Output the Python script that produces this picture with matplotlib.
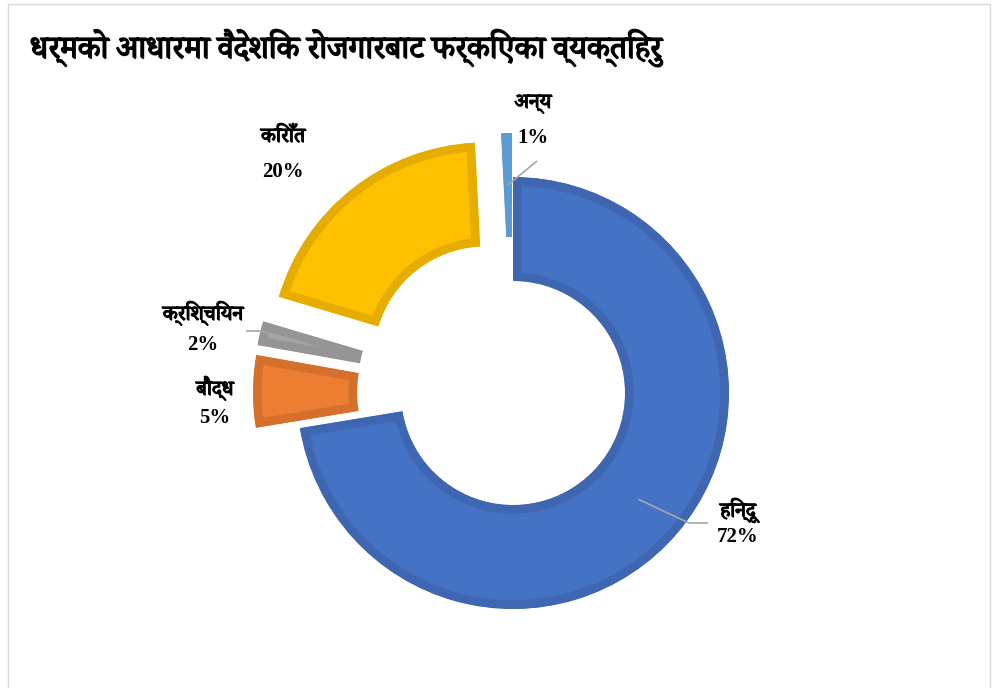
import matplotlib

matplotlib.use("Agg")
import matplotlib.pyplot as plt
import matplotlib.patheffects as pe
import numpy as np
from matplotlib.patches import Rectangle

TITLE = "धर्मको आधारमा वैदेशिक रोजगारबाट फर्किएका व्यक्तिहरु"
RELIGIONS = ["हिन्दू", "बौद्ध", "क्रिश्चियन", "किराँत", "अन्य"]
SHARES = [72.4, 5.4, 1.8, 19.6, 0.8]

FILLS = ["#4472C4", "#ED7D31", "#A5A5A5", "#FFC000", "#5B9BD5"]
EDGES = ["#3F67B1", "#D4702C", "#959595", "#E5AD00", "#5B9BD5"]

FONTS = ["Liberation Serif", "Noto Serif Devanagari", "Noto Sans Devanagari",
         "Lohit Devanagari", "FreeSerif", "Kokila", "Mangal", "DejaVu Sans"]

W, H = 994, 688
CX, CY = 513, 393          # donut centre, pixels from top-left
R_OUT, R_IN = 216, 112
EXPLODE = [0, 44, 44, 44, 44]

# label layout: (x, y of name line, y of percent line), pixels from top
LABEL_POS = [(738, 510, 537), (215, 388, 418), (203, 313, 345),
             (283, 137, 172), (533, 103, 138)]
# leader lines: extra points after the slice anchor (None = no leader)
LEADERS = [[(689, 523), (708, 523)], None, [(260, 331), (246, 331)],
           None, [(537, 161)]]

BOLDEN = [pe.withStroke(linewidth=0.9, foreground="black")]


def fy(y):
    return H - y


fig = plt.figure(figsize=(W / 100, H / 100), dpi=100, facecolor="white")
ax = fig.add_axes([0, 0, 1, 1])

wedges, _ = ax.pie(
    SHARES,
    colors=FILLS,
    startangle=90,
    counterclock=False,
    radius=R_OUT,
    center=(CX, fy(CY)),
    explode=EXPLODE,
    wedgeprops=dict(width=R_OUT - R_IN),
)

# inset border like the office chart: stroke clipped to its own slice
for w, ec in zip(wedges, EDGES):
    w.set_edgecolor(ec)
    w.set_linewidth(12.5)
    w.set_joinstyle("miter")
    w.set_clip_on(True)
    w.set_clip_path(w)

ax.set_xlim(0, W)
ax.set_ylim(0, H)
ax.set_aspect("auto")
ax.axis("off")

r_mid = (R_OUT + R_IN) / 2
for w, name, share, pos, lead in zip(wedges, RELIGIONS, SHARES, LABEL_POS, LEADERS):
    x, yn, yp = pos
    ax.text(x, fy(yn), name, ha="center", va="center", fontsize=15,
            fontweight="bold", family=FONTS, color="#000000", path_effects=BOLDEN)
    ax.text(x, fy(yp), f"{round(share)}%", ha="center", va="center",
            fontsize=15, fontweight="bold", family=FONTS, color="#000000")
    if lead:
        ang = np.deg2rad((w.theta1 + w.theta2) / 2)
        x0 = w.center[0] + r_mid * np.cos(ang)
        y0 = w.center[1] + r_mid * np.sin(ang)
        xs = [x0] + [p[0] for p in lead]
        ys = [y0] + [fy(p[1]) for p in lead]
        ax.plot(xs, ys, color="#A6A6A6", lw=1.2, solid_capstyle="butt", zorder=5)

fig.text(30 / W, 1 - 48 / H, TITLE, ha="left", va="center", fontsize=23,
         fontweight="bold", family=FONTS, color="#000000",
         path_effects=[pe.withStroke(linewidth=1.1, foreground="black")])

fig.patches.append(Rectangle((8 / W, -0.05), 982 / W, 1.05 - 4 / H,
                             transform=fig.transFigure, fill=False,
                             edgecolor="#D9D9D9", lw=1.0))

fig.savefig("out.png", dpi=100, facecolor="white")
